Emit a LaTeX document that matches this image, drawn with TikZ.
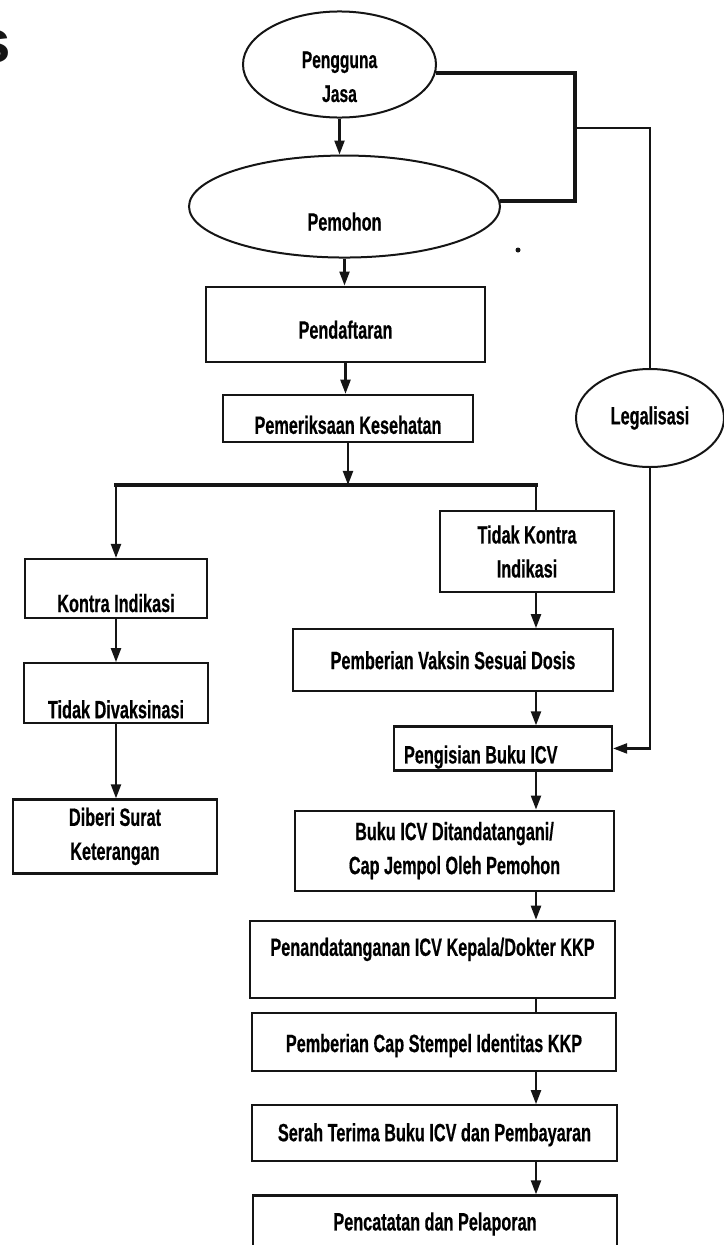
\documentclass[tikz,border=0pt]{standalone}
\usepackage{fontspec}
\usepackage{xcolor}
\usetikzlibrary{shapes.geometric, arrows.meta, positioning}
\newfontfamily\flowfont[FakeStretch=0.65, BoldFeatures={FakeBold=0.5}]{Liberation Sans}
\newfontfamily\headfont{Liberation Sans}
\definecolor{inkcolor}{HTML}{151515}

\begin{document}
\begin{tikzpicture}[
        x=1pt, y=-1pt,
        box/.style={
            rectangle,
            draw=inkcolor,
            line width=2.2pt,
            inner sep=2pt,
            align=center,
            font=\flowfont\bfseries\fontsize{25}{34}\selectfont
        },
        oval/.style={
            ellipse,
            draw=inkcolor,
            line width=2pt,
            inner sep=0pt,
            align=center,
            font=\flowfont\bfseries\fontsize{25}{34}\selectfont
        },
        arrow/.style={-{Triangle[length=14pt, width=10pt]}, line width=2.2pt, draw=inkcolor},
        link/.style={line width=2.2pt, draw=inkcolor},
        heavy/.style={line width=4pt, draw=inkcolor}
    ]
        \useasboundingbox (0,0) rectangle (723,1245);

        % cut-off heading
        \node[anchor=base east, inner sep=0pt, text=inkcolor, font=\headfont\bfseries\fontsize{60}{60}\selectfont] (frag) at (11,62) {s};

        % Nodes
        \node[oval, minimum width=193pt, minimum height=105pt, text height=75pt, text depth=0pt, font=\flowfont\bfseries\fontsize{24}{34}\selectfont] (pengguna) at (339.5,64.5) {Pengguna\\Jasa};
        \node[oval, minimum width=311pt, minimum height=102pt, text height=48pt, text depth=0pt, below=36pt of pengguna, xshift=5pt] (pemohon) {Pemohon};
        \node[box, minimum width=279pt, minimum height=75pt, text height=29pt, text depth=0pt, below=27pt of pemohon, xshift=1pt] (pend) {Pendaftaran};
        \node[box, minimum width=250pt, minimum height=47pt, text height=31pt, text depth=0pt, below=31pt of pend, xshift=2.5pt] (periksa) {Pemeriksaan Kesehatan};

        % Left branch
        \node[box, minimum width=182pt, minimum height=59pt, text height=47pt, text depth=0pt, below=115pt of periksa, xshift=-232pt] (kontra) {Kontra Indikasi};
        \node[box, minimum width=184pt, minimum height=60pt, text height=50pt, text depth=0pt, below=43pt of kontra] (tdkvaks) {Tidak Divaksinasi};
        \node[box, minimum width=204pt, minimum height=74pt, below=74pt of tdkvaks, xshift=-1pt] (surat) {Diberi Surat\\Keterangan};

        % Right branch
        \node[box, minimum width=174pt, minimum height=81pt, below=67pt of periksa, xshift=179pt] (tdkkontra) {Tidak Kontra\\Indikasi};
        \node[box, minimum width=320pt, minimum height=62pt, below=35pt of tdkkontra, xshift=-74pt] (vaksin) {Pemberian Vaksin Sesuai Dosis};
        \node[box, minimum width=218pt, minimum height=44pt, text width=198pt, align=flush left, text height=30pt, text depth=0pt, below=33pt of vaksin, xshift=50pt] (isi) {Pengisian Buku ICV};
        \node[box, minimum width=319pt, minimum height=80pt, below=38pt of isi, xshift=-48.5pt] (buku) {Buku ICV Ditandatangani/\\Cap Jempol Oleh Pemohon};
        \node[box, minimum width=365pt, minimum height=77pt, text height=18pt, text depth=25pt, below=28pt of buku, xshift=-22pt] (ttd) {Penandatanganan ICV Kepala/Dokter KKP};
        \node[box, minimum width=364pt, minimum height=58pt, text height=20pt, text depth=0pt, below=13pt of ttd, xshift=1.5pt] (stempel) {Pemberian Cap Stempel Identitas KKP};
        \node[box, minimum width=365pt, minimum height=56pt, text height=18pt, text depth=2pt, below=32pt of stempel, xshift=0.5pt] (serah) {Serah Terima Buku ICV dan Pembayaran};
        \node[box, minimum width=364pt, minimum height=79pt, text height=18pt, text depth=27pt, below=32pt of serah, xshift=0.5pt] (catat) {Pencatatan dan Pelaporan};

        % Legalisasi
        \node[oval, minimum width=148pt, minimum height=98pt] (legal) at (650,418) {Legalisasi};

        % Helper points
        \coordinate (split) at ([yshift=-42pt]periksa.south);
        \coordinate (spine) at ([xshift=9pt]tdkkontra.north);
        \coordinate (hub) at ([xshift=138pt]pengguna.east);
        \coordinate (tap) at ([yshift=-63.5pt]hub);

        % Arrows
        \draw[arrow] (pengguna.south) -- (pengguna.south |- pemohon.north);
        \draw[arrow] (pemohon.south) -- (pemohon.south |- pend.north);
        \draw[arrow] (pend.south) -- (pend.south |- periksa.north);
        \draw[arrow] (periksa.south) -- (split);
        \draw[heavy, line cap=rect] (split -| kontra.north) -- (split -| spine);
        \draw[arrow] (split -| kontra.north) -- (kontra.north);
        \draw[link] (split -| spine) -- (spine);

        \draw[arrow] (kontra.south) -- (tdkvaks.north);
        \draw[arrow] (tdkvaks.south) -- (tdkvaks.south |- surat.north);

        \draw[arrow] (tdkkontra.south -| spine) -- (vaksin.north -| spine);
        \draw[arrow] (vaksin.south -| spine) -- (isi.north -| spine);
        \draw[arrow] (isi.south -| spine) -- (buku.north -| spine);
        \draw[arrow] (buku.south -| spine) -- (ttd.north -| spine);
        \draw[link] (ttd.south -| spine) -- (stempel.north -| spine);
        \draw[arrow] (stempel.south -| spine) -- (serah.north -| spine);
        \draw[arrow] (serah.south -| spine) -- (catat.north -| spine);

        % Legalisasi path
        \draw[heavy] (pengguna.-5) -| (hub |- pemohon.2) -- (pemohon.2);
        \draw[link] (tap) -| (legal.north);
        \draw[arrow] (legal.south) |- (isi.east);

        % stray mark
        \fill[inkcolor] (518,250) circle (2.5pt);
\end{tikzpicture}
\end{document}
